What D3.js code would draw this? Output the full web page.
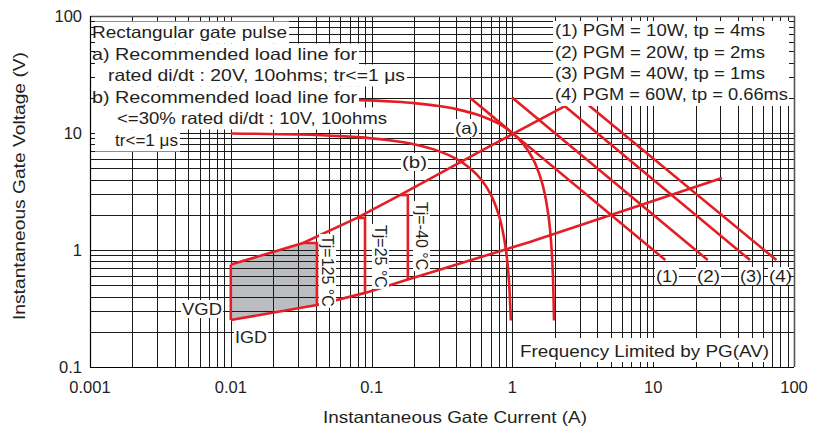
<!DOCTYPE html>
<meta charset="utf-8">
<style>
body { margin: 0; background: #fff; }
text { font-family: "Liberation Sans", Arial, sans-serif; fill: #231f20; }
.grid line { stroke: #1a1a1a; stroke-width: 1; shape-rendering: crispEdges; }
.ticks line { stroke: #1a1a1a; stroke-width: 1; shape-rendering: crispEdges; }
.red { fill: none; stroke: #e31e24; stroke-width: 2.6; }
</style>
<svg width="813" height="432"></svg>
<script src="https://d3js.org/d3.v7.min.js"></script>
<script>

// axis labels
var xTickValues = [0.001, 0.01, 0.1, 1, 10, 100];
var xTickLabels = ["0.001", "0.01", "0.1", "1", "10", "100"];
var yTickValues = [0.1, 1, 10, 100];
var yTickLabels = ["0.1", "1", "10", "100"];

// gate characteristic boundaries (current A, voltage V)
var upperBound = [[0.01, 0.75], [0.0326, 1.148], [0.0788, 1.88], [0.159, 2.95], [0.618, 7.16], [2.36, 17]];
var lowerBound = [[0.01, 0.252], [0.0409, 0.339], [0.09, 0.43], [0.181, 0.56], [1.33, 1.17], [30.8, 4.13]];

// temperature limits
var tjNames = ["Tj=125 °C", "Tj=25 °C", "Tj=-40 °C"];
var tjKnee = [0.0326, 0.0788, 0.159];
var tjCurrent = [0.0409, 0.0898, 0.181];
var tjTopV = [1.148, 1.88, 2.95];
var tjBottomV = [0.339, 0.43, 0.56];

// load lines (a) 20V/10ohm and (b) 10V/10ohm
var loadLineA = [[0.077, 19.2], [0.1, 19], [0.15, 18.5], [0.2, 18], [0.3, 17], [0.4, 16], [0.6, 14], [0.8, 12],
  [1.0, 10], [1.2, 8], [1.4, 6], [1.6, 4], [1.7, 3], [1.8, 2], [1.85, 1.5], [1.9, 1], [1.94, 0.6], [1.975, 0.25]];
var loadLineB = [[0.01, 9.9], [0.03, 9.7], [0.06, 9.4], [0.1, 9], [0.15, 8.5], [0.2, 8], [0.3, 7], [0.4, 6],
  [0.5, 5], [0.6, 4], [0.7, 3], [0.8, 2], [0.85, 1.5], [0.9, 1], [0.94, 0.6], [0.975, 0.25]];

// peak gate power lines
var pgmNames = ["(1)", "(2)", "(3)", "(4)"];
var pgmLines = [
  [[0.5, 20], [12.2, 0.82]],
  [[1, 20], [24.4, 0.82]],
  [[2.36, 16.9], [48.7, 0.82]],
  [[3, 20], [75, 0.82]]
];

var noteLines = ["Rectangular gate pulse", "a) Recommended load line for", "rated di/dt : 20V, 10ohms; tr<=1 μs",
  "b) Recommended load line for", "<=30% rated di/dt : 10V, 10ohms", "tr<=1 μs"];
var legendLines = ["(1) PGM = 10W,  tp = 4ms", "(2) PGM = 20W,  tp = 2ms", "(3) PGM = 40W,  tp = 1ms", "(4) PGM = 60W,  tp = 0.66ms"];

var svg = d3.select("svg");

var x = d3.scaleLog().domain([0.001, 100]).range([90, 794]);
var y = d3.scaleLog().domain([0.1, 100]).range([367, 16]);
var line = d3.line().x(function(d) { return x(d[0]); }).y(function(d) { return y(d[1]); });
var smooth = d3.line().x(function(d) { return x(d[0]); }).y(function(d) { return y(d[1]); }).curve(d3.curveCatmullRom.alpha(0.5));

function label(parent, str, px, py, opts) {
  opts = opts || {};
  var g = parent.append("g")
    .attr("transform", "translate(" + px + "," + py + ")" + (opts.rotate ? " rotate(" + opts.rotate + ")" : ""));
  var t = g.append("text")
    .attr("font-size", opts.size || 16.5)
    .attr("text-anchor", opts.anchor || "start")
    .text(str);
  if (opts.width) t.attr("textLength", opts.width).attr("lengthAdjust", "spacingAndGlyphs");
  if (opts.bg) {
    var b = t.node().getBBox();
    g.insert("rect", "text")
      .attr("x", b.x - 1).attr("y", b.y)
      .attr("width", b.width + 2).attr("height", b.height)
      .attr("fill", "#fff");
  }
  return g;
}

// shaded non-trigger region at 125 C
var grayArea = [lowerBound[0], upperBound[0], upperBound[1], [tjCurrent[0], tjTopV[0]], [tjCurrent[0], tjBottomV[0]]];
svg.append("path").attr("d", line(grayArea) + "Z").attr("fill", "#bcbdc0");

// grid
var grid = svg.append("g").attr("class", "grid");
grid.selectAll(".gx").data(x.ticks()).enter().append("line")
  .attr("x1", function(d) { return Math.round(x(d)) + 0.5; })
  .attr("x2", function(d) { return Math.round(x(d)) + 0.5; })
  .attr("y1", 16).attr("y2", 367);
grid.selectAll(".gy").data(y.ticks()).enter().append("line")
  .attr("y1", function(d) { return Math.round(y(d)) + 0.5; })
  .attr("y2", function(d) { return Math.round(y(d)) + 0.5; })
  .attr("x1", 90).attr("x2", 794);

// red curves
var red = svg.append("g");
red.append("path").attr("class", "red").attr("d", line(upperBound));
red.append("path").attr("class", "red").attr("d", line(lowerBound));
red.append("path").attr("class", "red").attr("d", line([lowerBound[0], upperBound[0]]));
tjNames.forEach(function(n, i) {
  red.append("path").attr("class", "red")
    .attr("d", line([[tjKnee[i], tjTopV[i]], [tjCurrent[i], tjTopV[i]], [tjCurrent[i], tjBottomV[i]]]));
});
red.append("path").attr("class", "red").attr("d", smooth(loadLineA));
red.append("path").attr("class", "red").attr("d", smooth(loadLineB));
pgmLines.forEach(function(p) {
  red.append("path").attr("class", "red").attr("d", line(p));
});

// notes, top left
var notes = svg.append("g");
var noteX = [92, 92, 108, 92, 117, 115];
var noteY = [38, 60, 81, 103, 124, 146];
var noteW = [195, 265, 297, 265, 270, 63];
noteLines.forEach(function(s, i) {
  notes.append("rect").attr("x", 90).attr("y", noteY[i] - 16.5)
    .attr("width", noteX[i] + noteW[i] + 2 - 90).attr("height", 22).attr("fill", "#fff");
});
noteLines.forEach(function(s, i) {
  label(notes, s, noteX[i], noteY[i], { width: noteW[i] });
});

// PGM legend, top right
var legend = svg.append("g");
var legendW = [210, 210, 210, 233];
var legendY = [36, 58, 79, 100];
legend.append("rect").attr("x", 553).attr("y", 21).attr("width", 236).attr("height", 85).attr("fill", "#fff");
legendLines.forEach(function(s, i) {
  label(legend, s, 555, legendY[i], { width: legendW[i] });
});

// frequency note
svg.append("rect").attr("x", 517).attr("y", 338).attr("width", 254).attr("height", 28).attr("fill", "#fff");
label(svg, "Frequency Limited by PG(AV)", 520, 357, { width: 249 });

// curve labels
label(svg, "(a)", 455, 134, { width: 23, bg: true });
label(svg, "(b)", 402, 168, { width: 25, bg: true });
var pgmLabelX = [656, 697, 740, 769];
var pgmLabelW = [22, 23, 22, 23];
pgmNames.forEach(function(s, i) {
  label(svg, s, pgmLabelX[i], 282, { width: pgmLabelW[i], bg: true });
});
label(svg, "VGD", 182, 315, { width: 40, bg: true });
label(svg, "IGD", 235, 343, { width: 32, bg: true });
var tjLabelX = [322, 375, 416];
var tjLabelY = [235, 225, 202];
tjNames.forEach(function(s, i) {
  label(svg, s, tjLabelX[i], tjLabelY[i], { rotate: 90, size: 16, bg: true });
});

// frame and inner ticks
var ticks = svg.append("g").attr("class", "ticks");
x.ticks().forEach(function(v) {
  var px = Math.round(x(v)) + 0.5;
  ticks.append("line").attr("x1", px).attr("x2", px).attr("y1", 16).attr("y2", 21);
  ticks.append("line").attr("x1", px).attr("x2", px).attr("y1", 362).attr("y2", 367);
});
y.ticks().forEach(function(v) {
  var py = Math.round(y(v)) + 0.5;
  ticks.append("line").attr("y1", py).attr("y2", py).attr("x1", 90).attr("x2", 95);
  ticks.append("line").attr("y1", py).attr("y2", py).attr("x1", 789).attr("x2", 794);
});
svg.append("path").attr("d", "M90,16.5H794.5V367").attr("fill", "none").attr("stroke", "#555").attr("stroke-width", 1.6);
svg.append("path").attr("d", "M90.5,16V367.5H794").attr("fill", "none").attr("stroke", "#000").attr("stroke-width", 1.2);

// tick labels
xTickValues.forEach(function(v, i) {
  label(svg, xTickLabels[i], x(v), 393, { anchor: "middle" });
});
yTickValues.forEach(function(v, i) {
  label(svg, yTickLabels[i], 82, y(v) + 5.5, { anchor: "end" });
});

// axis titles
label(svg, "Instantaneous Gate Current (A)", 323, 423, { width: 264 });
label(svg, "Instantaneous Gate Voltage (V)", 25, 320, { rotate: -90, width: 268 });

</script>
